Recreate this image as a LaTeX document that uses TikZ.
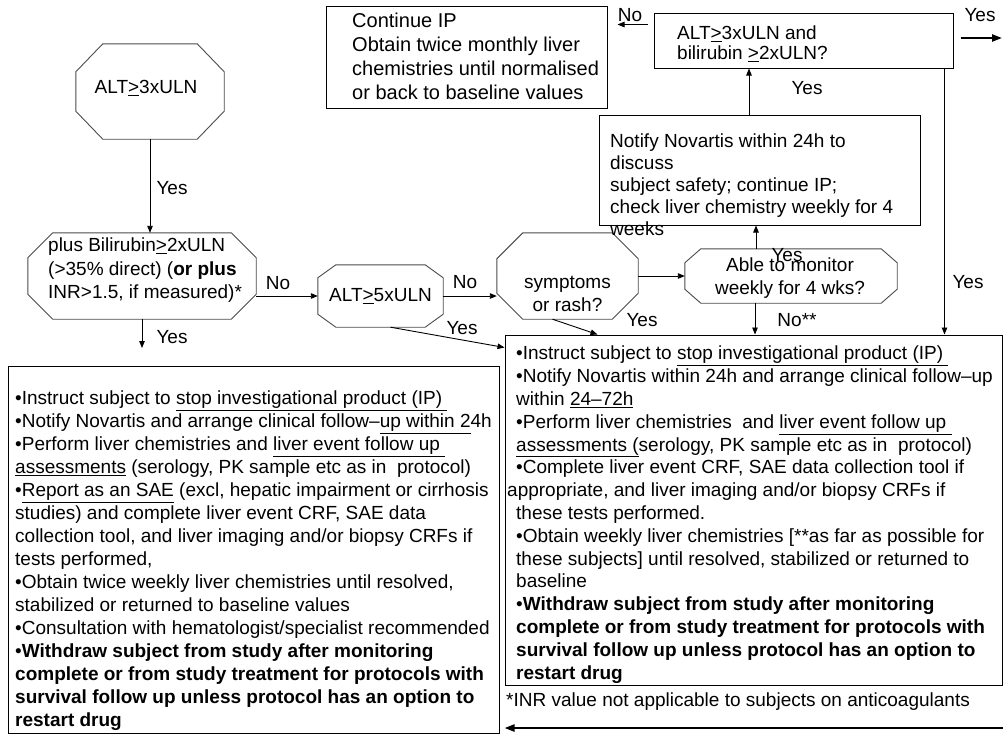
\documentclass[tikz,border=0pt]{standalone}
\usepackage{fontspec}
\setmainfont{Liberation Sans}
\usetikzlibrary{arrows.meta,calc}

% octagonal outline drawn on the border box of a named node:
% #1 node name, #2 horizontal corner cut, #3 vertical corner cut
\newcommand{\octframe}[3]{%
  \draw[octline] ($(#1.north west)+(#2,0)$) -- ($(#1.north east)+(-#2,0)$)
    -- ($(#1.north east)+(0,#3)$) -- ($(#1.south east)+(0,-#3)$)
    -- ($(#1.south east)+(-#2,0)$) -- ($(#1.south west)+(#2,0)$)
    -- ($(#1.south west)+(0,-#3)$) -- ($(#1.north west)+(0,#3)$) -- cycle;}

\tikzset{
  box/.style={draw=black, line width=1pt, inner sep=0pt},
  oct/.style={draw=none, inner sep=0pt},
  octline/.style={draw=black!70, line width=0.9pt},
  txt/.style={inner sep=0pt, align=left, anchor=north west, font=\fontsize{19}{22.8}\selectfont},
  ctxt/.style={inner sep=0pt, align=center, font=\fontsize{19}{23}\selectfont},
  lbl/.style={inner sep=0pt, font=\fontsize{19}{22}\selectfont, text height=13.6pt, text depth=0pt},
  arr/.style={-{Triangle[length=7pt,width=5.5pt]}, line width=0.9pt},
  bigarr/.style={-{Triangle[length=10pt,width=7pt]}, line width=2.2pt},
}

\begin{document}
\begin{tikzpicture}[x=1pt,y=-1pt]
\fill[white] (0,0) rectangle (1003,734);
\useasboundingbox (0,0) rectangle (1003,734);

% ---- decision octagons ----
\node[oct, minimum width=148pt, minimum height=95pt] (alt3) at (150,91.5) {};
\octframe{alt3}{27}{28}
\node[lbl] (alt3t) at (146,87) {ALT\underline{>}3xULN};

\node[oct, minimum width=228pt, minimum height=86pt] (bili) at (142,276) {};
\octframe{bili}{25}{25}
\node[txt, font=\fontsize{19}{23.5}\selectfont] (bilit) at (48,238)
  {plus Bilirubin\underline{>}2xULN\\(>35\% direct) (\textbf{or plus}\\INR>1.5, if measured)*};

\node[oct, minimum width=125pt, minimum height=62pt] (alt5) at (380.5,296) {};
\octframe{alt5}{18}{13}
\node[lbl] (alt5t) at (380.5,295) {ALT\underline{>}5xULN};

\node[oct, minimum width=141pt, minimum height=86pt] (sym) at (567.5,276) {};
\octframe{sym}{26}{26}
\node[ctxt] (symt) at (567.5,293.5) {symptoms\\or rash?};

\node[oct, minimum width=212pt, minimum height=54pt] (able) at (791,276) {};
\octframe{able}{16}{14}
\node[ctxt] (ablet) at (790,278.5) {Able to monitor\\weekly for 4 wks?};

% ---- action boxes ----
\node[box, minimum width=281pt, minimum height=102pt] (cont) at (466.5,57) {};
\node[txt, font=\fontsize{20}{24}\selectfont] (contt) at (352,13)
  {Continue IP\\Obtain twice monthly liver\\chemistries until normalised\\or back to baseline values};

\node[box, minimum width=299pt, minimum height=55pt] (alt2) at (803.5,40.5) {};
\node[txt, font=\fontsize{19}{20}\selectfont] (alt2t) at (677,26)
  {ALT\underline{>}3xULN and\\bilirubin \underline{>}2xULN?};

\node[box, minimum width=321pt, minimum height=110pt] (notify) at (759.5,170) {};
\node[txt, font=\fontsize{19}{22}\selectfont] (notifyt) at (610,134)
  {Notify Novartis within 24h to\\discuss\\subject safety; continue IP;\\check liver chemistry weekly for 4\\weeks};

\node[box, minimum width=491pt, minimum height=367pt] (lbox) at (253.5,549.5) {};
\node[txt, font=\fontsize{19}{23}\selectfont] (lboxt) at (15,391)
  {•Instruct subject to \underline{stop investigational product (IP)~}\\
   •Notify Novartis and arrange clinical follow–\underline{up within 2}4h\\
   •Perform liver chemistries and \underline{liver event follow up~}\\
   \underline{assessments} (serology, PK sample etc as in~ protocol)\\
   •\underline{Report as an SAE} (excl, hepatic impairment or cirrhosis\\
   studies) and complete liver event CRF, SAE data\\
   collection tool, and liver imaging and/or biopsy CRFs if\\
   tests performed,\\
   •Obtain twice weekly liver chemistries until resolved,\\
   stabilized or returned to baseline values\\
   •Consultation with hematologist/specialist recommended\\
   •\textbf{Withdraw subject from study after monitoring}\\
   \textbf{complete or from study treatment for protocols with}\\
   \textbf{survival follow up unless protocol has an option to}\\
   \textbf{restart drug}};

\node[box, minimum width=497pt, minimum height=350pt] (rbox) at (753.5,510) {};
\node[txt] (rboxt) at (516,346)
  {•Instruct subject to \underline{stop investigational product (IP)~}\\
   •Notify Novartis within 24h and arrange clinical follow–up\\
   within \underline{24–72h}\\
   •Perform liver chemistries~ and \underline{liver event follow up~}\\
   \underline{assessments (}serology, PK sample etc as in~ protocol)\\
   •Complete liver event CRF, SAE data collection tool if\\
   \hspace*{-9pt}appropriate, and liver imaging and/or biopsy CRFs if\\
   these tests performed.\\
   •Obtain weekly liver chemistries [**as far as possible for\\
   these subjects] until resolved, stabilized or returned to\\
   baseline\\
   •\textbf{Withdraw subject from study after monitoring}\\
   \textbf{complete or from study treatment for protocols with}\\
   \textbf{survival follow up unless protocol has an option to}\\
   \textbf{restart drug}};

\node[lbl, anchor=west] (inr) at (506,700) {*INR value not applicable to subjects on anticoagulants};

% ---- connectors ----
\coordinate (yesl) at (142,348);
\coordinate (exitr) at (1002,38);
\coordinate (backr) at (1003,728);

\draw[arr] (alt3.south) -- (alt3.south |- bili.north);
\node[lbl] (l1) at (172,188) {Yes};

\draw[arr] (bili.south) -- (yesl);
\node[lbl] (l2) at (172,337) {Yes};

\draw[arr] (bili.east |- alt5.west) -- (alt5.west);
\node[lbl] (l3) at (278,283) {No};

\draw[arr] (alt5.east) -- (alt5.east -| sym.west);
\node[lbl] (l4) at (465,282) {No};

\draw[arr] ([xshift=10pt]alt5.south) -- ($(rbox.north west)+(0,13)$);
\node[lbl] (l5) at (462,328) {Yes};

\draw[arr] (sym.east) -- (able.west);

\draw[arr] ([xshift=-15pt]sym.south) -- ($(rbox.north west)+(93,0)$);
\node[lbl] (l6) at (642,320) {Yes};

\draw[arr] ([xshift=-36pt]able.south) -- ([xshift=-36pt]able.south |- rbox.north);
\node[lbl] (l7) at (797,320) {No**};

\draw[arr] ([xshift=-35pt]able.north) -- ([xshift=-35pt]able.north |- notify.south);
\node[lbl] (l8) at (787,255) {Yes};

\draw[arr] ([xshift=-10.5pt]notify.north) -- ([xshift=-10.5pt]notify.north |- alt2.south);
\node[lbl] (l9) at (807,88) {Yes};

\draw[arr] ($(alt2.north west)+(-6,12)$) -- ($(cont.north east)+(10,19)$);
\node[lbl] (l10) at (630,15) {No};

\draw[arr] ([xshift=-9pt]alt2.south east) -- ([xshift=-9pt]alt2.south east |- rbox.north);
\node[lbl] (l11) at (968,282) {Yes};

\draw[bigarr] (alt2.east |- exitr) ++(7,0) -- (exitr);
\node[lbl] (l12) at (980,15) {Yes};

\draw[bigarr] (backr) -- (backr -| rbox.west);
\end{tikzpicture}
\end{document}
